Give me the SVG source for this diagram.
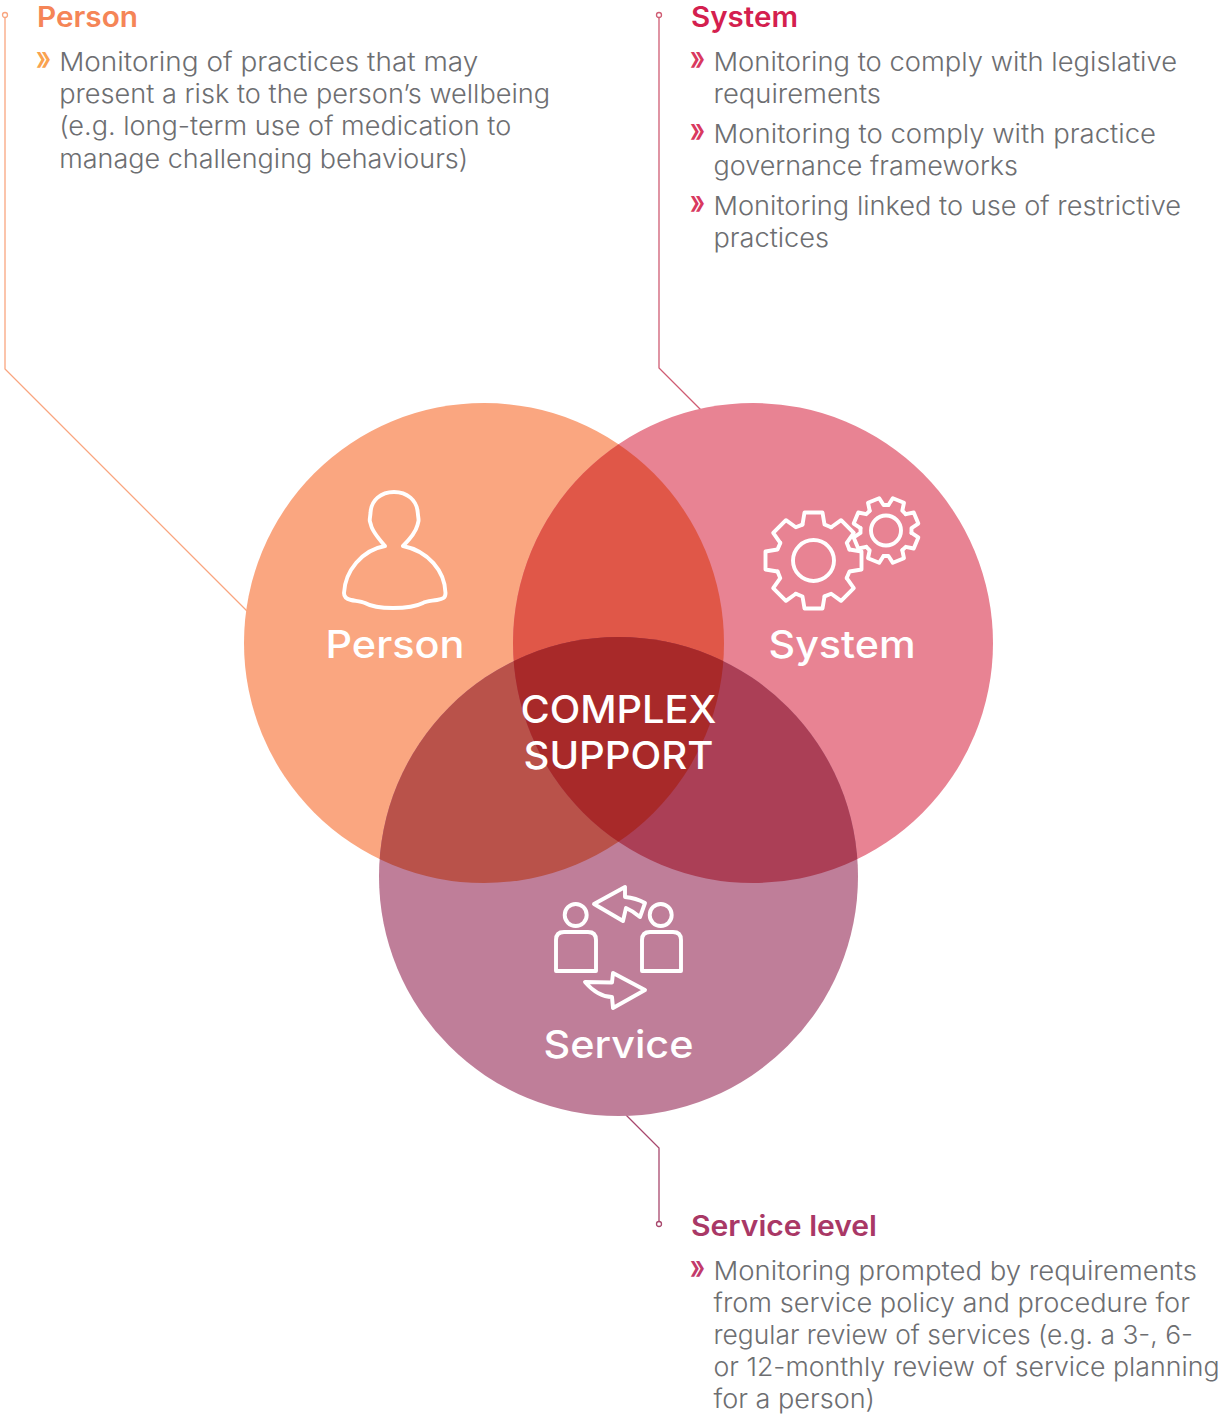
<svg xmlns="http://www.w3.org/2000/svg" xmlns:xlink="http://www.w3.org/1999/xlink" width="1218" height="1414" viewBox="0 0 1218 1414">
<style>
text{font-family:"Inter","Noto Sans","Liberation Sans",sans-serif}
.b{font-size:26px;font-weight:300;fill:#6d6e71}
.h{font-size:28px;font-weight:600}
.c{font-size:38px;font-weight:500;fill:#fff}
.m{font-size:34px;font-weight:600}
.i{fill:none;stroke:#fff;stroke-width:3.9;stroke-linejoin:round;stroke-linecap:round}
.l{fill:none;stroke-width:1.3}
</style>
<defs>
<circle id="cP" cx="484" cy="643" r="240"/>
<circle id="cS" cx="753" cy="643" r="240"/>
<circle id="cV" cx="618.500" cy="876.500" r="239.500"/>
<clipPath id="clipP"><use href="#cP"/></clipPath>
<clipPath id="clipS"><use href="#cS"/></clipPath>
<clipPath id="clipV"><use href="#cV"/></clipPath>
<path id="tb" class="i" d="M-11,-36L-9,-48H9L11,-36L17.6,-33.2"/>
<path id="ts" class="i" d="M-7.5,-24.5L-6,-32.500H6L7.5,-24.5L12,-22.6"/>
</defs>
<g id="connectors">
<g stroke="#f9a57f" class="l"><circle cx="5" cy="15" r="2.5"/><path d="M5,17.5V369L247,611"/></g>
<g stroke="#cf5c73" class="l"><circle cx="659" cy="15" r="2.5"/><path d="M659,17.5V368L702,411"/></g>
<g stroke="#a8486d" class="l"><circle cx="659" cy="1224" r="2.5"/><path d="M659,1221.5V1148L626,1115"/></g>
</g>
<g id="venn">
<use href="#cP" fill="#faa680"/>
<use href="#cS" fill="#e88393"/>
<use href="#cV" fill="#bf7e99"/>
<g clip-path="url(#clipP)"><use href="#cS" fill="#e05748"/><use href="#cV" fill="#b9524a"/></g>
<g clip-path="url(#clipS)"><use href="#cV" fill="#ab3f56"/></g>
<g clip-path="url(#clipP)"><g clip-path="url(#clipS)"><use href="#cV" fill="#a82929"/></g></g>
</g>
<g id="node-person">
<path class="i" d="M385,546C378,538 372,531 371,525L369.800,521C369.500,519 370.300,516 370.500,513C371,500 381,492 394,492C407,492 417,500 417.800,513C418,516 418.800,519 418.500,521L417.500,525C416,531 410,539 403,546C428,551 445,571 445.500,593C445.500,598 443,599 437,600C431,601 426,601 423,603C415,607 404,608 393,608C382,608 372,607 365,603C361,601 355,601 351,600C346,599 344,597 344,593C345,571 362,550 385,546Z"/>
<text class="c" x="325.500" y="657.700" textLength="139" lengthAdjust="spacingAndGlyphs">Person</text>
</g>
<g id="node-system">
<g transform="translate(813.500,560.500)"><use href="#tb"/><use href="#tb" transform="rotate(45)"/><use href="#tb" transform="rotate(90)"/><use href="#tb" transform="rotate(135)"/><use href="#tb" transform="rotate(180)"/><use href="#tb" transform="rotate(225)"/><use href="#tb" transform="rotate(270)"/><use href="#tb" transform="rotate(315)"/><circle class="i" r="20.500"/></g>
<g transform="translate(886,530.500)"><g transform="rotate(22.500)"><use href="#ts"/><use href="#ts" transform="rotate(45)"/><use href="#ts" transform="rotate(90)"/><use href="#ts" transform="rotate(135)"/><use href="#ts" transform="rotate(180)"/><use href="#ts" transform="rotate(225)"/><use href="#ts" transform="rotate(270)"/><use href="#ts" transform="rotate(315)"/></g><circle class="i" r="15"/></g>
<text class="c" x="768.500" y="657.700" textLength="147" lengthAdjust="spacingAndGlyphs">System</text>
</g>
<g id="node-service">
<circle class="i" cx="575.700" cy="915" r="11"/>
<circle class="i" cx="660.700" cy="915" r="11"/>
<path class="i" d="M556,971V940Q556,932 564,932H588Q596,932 596,940V971Z"/>
<path class="i" d="M642,971V940Q642,932 650,932H673Q681,932 681,940V971Z"/>
<path class="i" d="M594,904L625,887L625,897Q636,898 645,903L640,917Q633,911 626,908L623,921Z"/>
<path class="i" d="M585,982L612,982.500L613,973L645,990L613,1008L612,997Q598,997 585,982Z"/>
<text class="c" x="543.500" y="1057.700" textLength="150" lengthAdjust="spacingAndGlyphs">Service</text>
</g>
<g id="node-complex">
<text class="c" x="520.500" y="722.700" textLength="196" lengthAdjust="spacingAndGlyphs">COMPLEX</text>
<text class="c" x="523.500" y="768.700" textLength="190" lengthAdjust="spacingAndGlyphs">SUPPORT</text>
</g>
<g id="text-person">
<text class="h" fill="#f58557" x="37" y="27" textLength="101" lengthAdjust="spacingAndGlyphs">Person</text>
<text class="m" fill="#f9a24f" x="36" y="70" textLength="15" lengthAdjust="spacingAndGlyphs">»</text>
<text class="b" x="59.200" y="70.600" textLength="419" lengthAdjust="spacingAndGlyphs">Monitoring of practices that may</text>
<text class="b" x="59.200" y="102.600" textLength="491" lengthAdjust="spacingAndGlyphs">present a risk to the person’s wellbeing</text>
<text class="b" x="59.200" y="134.600" textLength="452" lengthAdjust="spacingAndGlyphs">(e.g. long-term use of medication to</text>
<text class="b" x="59.200" y="167.600" textLength="409" lengthAdjust="spacingAndGlyphs">manage challenging behaviours)</text>
</g>
<g id="text-system">
<text class="h" fill="#d41f4f" x="691" y="27" textLength="107" lengthAdjust="spacingAndGlyphs">System</text>
<text class="m" fill="#d9395f" x="690" y="70" textLength="15" lengthAdjust="spacingAndGlyphs">»</text>
<text class="b" x="713.500" y="70.600" textLength="463.500" lengthAdjust="spacingAndGlyphs">Monitoring to comply with legislative</text>
<text class="b" x="713.500" y="102.600" textLength="167.500" lengthAdjust="spacingAndGlyphs">requirements</text>
<text class="m" fill="#d9395f" x="690" y="142" textLength="15" lengthAdjust="spacingAndGlyphs">»</text>
<text class="b" x="713.500" y="142.600" textLength="442.500" lengthAdjust="spacingAndGlyphs">Monitoring to comply with practice</text>
<text class="b" x="713.500" y="174.600" textLength="304.500" lengthAdjust="spacingAndGlyphs">governance frameworks</text>
<text class="m" fill="#d9395f" x="690" y="213.500" textLength="15" lengthAdjust="spacingAndGlyphs">»</text>
<text class="b" x="713.500" y="214.600" textLength="467.500" lengthAdjust="spacingAndGlyphs">Monitoring linked to use of restrictive</text>
<text class="b" x="713.500" y="246.600" textLength="115.500" lengthAdjust="spacingAndGlyphs">practices</text>
</g>
<g id="text-service">
<text class="h" fill="#a93866" x="691" y="1236" textLength="186" lengthAdjust="spacingAndGlyphs">Service level</text>
<text class="m" fill="#c23a6b" x="690" y="1279" textLength="15" lengthAdjust="spacingAndGlyphs">»</text>
<text class="b" x="713.500" y="1279.600" textLength="483.500" lengthAdjust="spacingAndGlyphs">Monitoring prompted by requirements</text>
<text class="b" x="713.500" y="1311.600" textLength="476.500" lengthAdjust="spacingAndGlyphs">from service policy and procedure for</text>
<text class="b" x="713.500" y="1343.600" textLength="479.500" lengthAdjust="spacingAndGlyphs">regular review of services (e.g. a 3-, 6-</text>
<text class="b" x="713.500" y="1375.600" textLength="506" lengthAdjust="spacingAndGlyphs">or 12-monthly review of service planning</text>
<text class="b" x="713.500" y="1407.600" textLength="161.500" lengthAdjust="spacingAndGlyphs">for a person)</text>
</g>
</svg>
